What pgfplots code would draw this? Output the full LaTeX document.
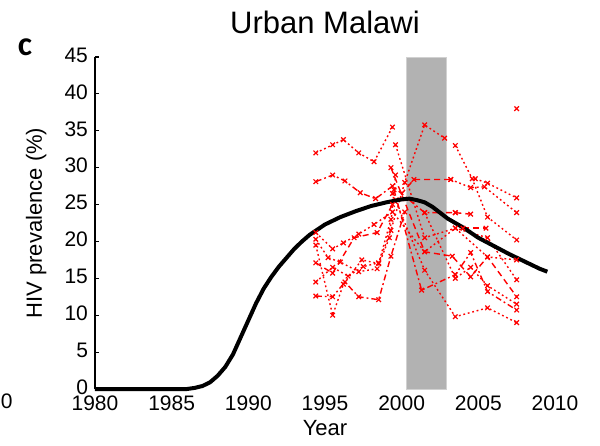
\documentclass[border=0pt]{standalone}
\usepackage{fontspec}
\setmainfont{Liberation Sans}
\newfontfamily\calibri{Carlito}
\usepackage{pgfplots}
\pgfplotsset{compat=1.18}
\pgfplotsset{
  site/.style={color=red, line width=0.7pt, mark=x, mark size=1.6pt, mark options={solid, line width=0.6pt}},
  sdot/.style={site, dash pattern=on 0.9pt off 1.4pt},
  sdash/.style={site, dash pattern=on 3pt off 2pt},
  sdd/.style={site, dash pattern=on 3pt off 1.5pt on 0.9pt off 1.5pt},
}
\begin{document}
\begin{tikzpicture}
\useasboundingbox (-47.5pt,-28pt) rectangle (252.5pt,194.5pt);
\begin{axis}[
  at={(0,0)}, anchor=south west,
  scale only axis, width=230pt, height=166pt,
  xmin=1980, xmax=2010, ymin=0, ymax=45,
  clip=false,
  axis x line*=bottom, axis y line*=left,
  axis line style={-},
  x axis line style={draw=none},
  y axis line style={line width=0.8pt},
  xtick={1980,1985,...,2010}, ytick={0,5,...,45},
  xtick style={draw=none},
  ytick style={line width=0.6pt, black},
  tick align=inside, major tick length=2pt,
  /pgf/number format/1000 sep={},
  /pgf/number format/assume math mode=true,
  tick label style={font=\fontsize{10.5}{12}\selectfont},
  yticklabel style={yshift=1pt},
  xlabel={Year},
  xlabel style={font=\fontsize{11}{13}\selectfont, at={(axis description cs:0.5,-0.1175)}, anchor=center},
  ylabel={HIV prevalence (\%)},
  ylabel style={font=\fontsize{11}{13}\selectfont, at={(axis description cs:-0.128,0.5)}, anchor=center, rotate=0},
  title={Urban Malawi},
  title style={font=\fontsize{15.5}{18}\selectfont, at={(axis description cs:0.5,1.069)}, anchor=center},
]
% intervention period
\addplot[fill=black!30, draw=black!18, line width=0.4pt] coordinates {(2000.3,45) (2002.9,45)} \closedcycle;

% antenatal clinic sites
\addplot[sdot] coordinates {(1994.4,32.0) (1995.5,33.1) (1996.2,33.8) (1997.2,32.0) (1998.2,30.8) (1999.4,35.5)};
\addplot[sdd] coordinates {(1994.4,28.1) (1995.5,29.0) (1996.3,28.2) (1997.3,26.6) (1998.3,25.8) (1999.4,27.5) (2001.5,23.9) (2003.5,23.9)};
\addplot[sdot] coordinates {(1994.4,21.2) (1995.5,19.0) (1996.2,19.8) (1997.2,21.0) (1998.2,22.3) (1999.4,24.0) (2001.5,18.6) (2003.5,21.8) (2005.6,17.9) (2007.5,17.5)};
\addplot[sdash] coordinates {(1994.4,17.1) (1995.5,15.7) (1996.9,20.5) (1998.4,21.2) (1999.4,25.0) (2000.8,28.4) (2003.2,28.4)};
\addplot[sdot] coordinates {(2003.2,28.4) (2004.5,27.3) (2005.4,27.4) (2007.5,23.9)};
\addplot[sdot] coordinates {(1994.4,14.5) (1995.5,16.5) (1996.5,15.3) (1997.5,16.6) (1998.5,17.1) (1999.3,21.5) (2000.2,28.0) (2001.5,35.8) (2002.8,34.0)};
\addplot[sdd] coordinates {(1994.4,12.6) (1995.5,12.5) (1996.3,14.5) (1997.2,12.5) (1998.5,12.1) (1999.3,18.0) (2000.2,24.0)};
\addplot[sdot] coordinates {(1994.4,19.5) (1995.5,10.0) (1996.2,14.2) (1997.4,17.5) (1998.5,17.0) (1999.3,23.0)};
\addplot[sdot] coordinates {(1994.4,20.3) (1995.2,17.8) (1996.0,17.2) (1997.2,15.9) (1998.4,16.3) (1999.2,20.5) (1999.6,29.0)};
\addplot[sdot] coordinates {(1999.4,26.5) (2001.5,16.1) (2003.5,9.8) (2005.6,11.0) (2007.5,9.0)};
\addplot[sdd] coordinates {(1999.5,27.0) (2001.3,13.4) (2003.5,15.5) (2004.5,18.5) (2005.6,13.2) (2007.5,10.7)};
\addplot[sdot] coordinates {(1999.6,33.1) (2001.5,20.5) (2003.5,21.8) (2005.6,20.5) (2007.5,14.8)};
\addplot[sdash] coordinates {(1999.3,30.0) (2001.5,18.6) (2003.3,18.0) (2004.5,15.2) (2005.6,17.9) (2007.5,12.5)};
\addplot[sdot] coordinates {(2003.5,33.0) (2004.6,28.5) (2005.6,23.3) (2007.5,20.2)};
\addplot[sdot] coordinates {(2004.8,28.5) (2005.6,27.9) (2007.5,25.9)};
\addplot[sdash] coordinates {(2003.5,23.9) (2004.5,23.7)};
\addplot[sdash] coordinates {(2004.0,21.8) (2005.5,21.8)};
\addplot[sdot] coordinates {(2001.5,23.9) (2003.5,15.0) (2004.5,16.5) (2005.6,14.0) (2007.5,11.5)};
\addplot[site, only marks] coordinates {(2007.5,38.0)};

% model fit
\addplot[black, line width=2pt] coordinates {
(1980,0) (1986,0) (1986.5,0.15) (1987,0.4) (1987.5,0.9) (1988,1.8) (1988.5,3.0)
(1989,4.7) (1989.5,7.0) (1990,9.3) (1990.5,11.6) (1991,13.6) (1991.5,15.2)
(1992,16.6) (1992.5,17.8) (1993,19.0) (1993.5,20.0) (1994,20.9) (1994.5,21.6)
(1995,22.3) (1996,23.3) (1997,24.1) (1998,24.8) (1999,25.3) (2000,25.7)
(2000.5,25.8) (2001,25.6) (2001.5,25.3) (2002,24.7) (2002.5,23.9) (2003,23.1)
(2003.5,22.5) (2004,21.9) (2004.5,21.2) (2005,20.5) (2006,19.4) (2007,18.3)
(2008,17.3) (2009,16.3) (2009.5,15.9)};

\node[font=\calibri\bfseries\fontsize{17}{20}\selectfont, anchor=center] at (axis description cs:-0.152,1.030) {c};
\node[font=\fontsize{10.5}{12}\selectfont, anchor=center] at (axis description cs:-0.192,-0.036) {0};
\end{axis}
\end{tikzpicture}
\end{document}
